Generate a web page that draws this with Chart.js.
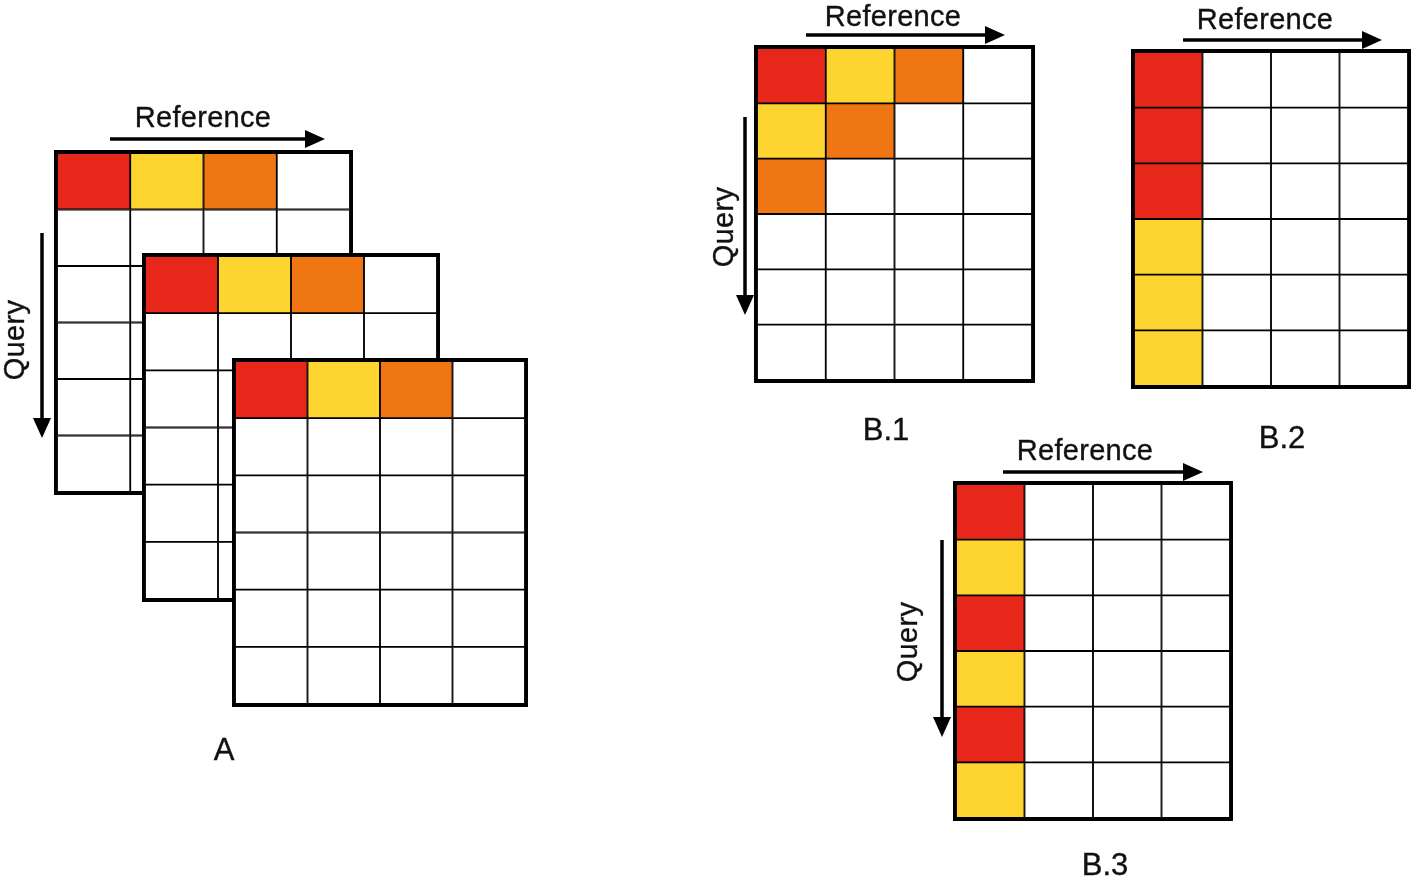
<!DOCTYPE html>
<html>
<head>
<meta charset="utf-8">
<script src="https://cdn.jsdelivr.net/npm/chart.js@4.4.1/dist/chart.umd.min.js"></script>
<style>
    html, body { margin: 0; padding: 0; background: #fff; }
    body { width: 1415px; height: 879px; position: relative; overflow: hidden; }
    .grid { position: absolute; border: 3px solid #000; background: #fff; box-sizing: border-box; }
    .grid canvas { display: block; }
    #notes { position: absolute; left: 0; top: 0; z-index: 10; pointer-events: none; }
    #notes text { font-family: "Liberation Sans", Arial, Helvetica, sans-serif; fill: #111; stroke: #111; stroke-width: 0.35px; }
</style>
</head>
<body>

<div class="grid" id="wA1"><canvas id="gA1"></canvas></div>
<div class="grid" id="wA2"><canvas id="gA2"></canvas></div>
<div class="grid" id="wA3"><canvas id="gA3"></canvas></div>
<div class="grid" id="wB1"><canvas id="gB1"></canvas></div>
<div class="grid" id="wB2"><canvas id="gB2"></canvas></div>
<div class="grid" id="wB3"><canvas id="gB3"></canvas></div>

<svg id="notes" width="1415" height="879"></svg>

<script>
// ── data ──
const columns = ['ref 1', 'ref 2', 'ref 3', 'ref 4'];
const queryRows = ['q 1', 'q 2', 'q 3', 'q 4', 'q 5', 'q 6'];
const cellUnit = [1, 1, 1, 1];

// R = red, Y = yellow, O = orange, W = empty
const gridA = ['RYOW', 'WWWW', 'WWWW', 'WWWW', 'WWWW', 'WWWW'];
const gridB1 = ['RYOW', 'YOWW', 'OWWW', 'WWWW', 'WWWW', 'WWWW'];
const gridB2 = ['RWWW', 'RWWW', 'RWWW', 'YWWW', 'YWWW', 'YWWW'];
const gridB3 = ['RWWW', 'YWWW', 'RWWW', 'YWWW', 'RWWW', 'YWWW'];

const panelLabels = ['A', 'B.1', 'B.2', 'B.3'];
const axisRef = 'Reference';
const axisQuery = 'Query';

const CELL = { R: '#e8271b', Y: '#fed530', O: '#f07614', W: '#ffffff' };

// ── layout (outer box of every grid) ──
const BOXES = {
    A1: [54, 150, 299, 345],
    A2: [142, 253, 298, 349],
    A3: [232, 358, 296, 349],
    B1: [754, 45, 281, 338],
    B2: [1131, 49, 280, 340],
    B3: [953, 481, 280, 340],
};
const FRAME = 3;

// ── grid factory ──
function makeGrid(key, cells) {
    const wrap = document.getElementById('w' + key);
    const ctx = document.getElementById('g' + key);
    const [x, y, w, h] = BOXES[key];
    const iw = w - 2 * FRAME, ih = h - 2 * FRAME;
    wrap.style.left = x + 'px';
    wrap.style.top = y + 'px';
    wrap.style.width = w + 'px';
    wrap.style.height = h + 'px';
    ctx.width = iw;
    ctx.height = ih;
    ctx.style.width = iw + 'px';
    ctx.style.height = ih + 'px';

    const datasets = cells.map((row, r) => ({
        label: queryRows[r],
        data: cellUnit,
        backgroundColor: row.split('').map(k => CELL[k]),
        borderColor: '#000',
        borderWidth: 1.25,
        borderSkipped: false,
        categoryPercentage: 1,
        barPercentage: 1,
    }));

    return new Chart(ctx, {
        type: 'bar',
        data: {
            labels: columns,
            datasets
        },
        options: {
            responsive: false,
            animation: false,
            events: [],
            layout: {
                padding: 0
            },
            plugins: {
                legend: {
                    display: false
                },
                tooltip: {
                    enabled: false
                }
            },
            scales: {
                x: {
                    stacked: true,
                    display: false
                },
                y: {
                    stacked: true,
                    display: false,
                    reverse: true,
                    min: 0,
                    max: queryRows.length
                },
            },
        }
    });
}

makeGrid('A1', gridA);
makeGrid('A2', gridA);
makeGrid('A3', gridA);
makeGrid('B1', gridB1);
makeGrid('B2', gridB2);
makeGrid('B3', gridB3);

// ── annotations ──
const NS = 'http://www.w3.org/2000/svg';
const svg = document.getElementById('notes');

function el(name, attrs, text) {
    const e = document.createElementNS(NS, name);
    for (const k in attrs) e.setAttribute(k, attrs[k]);
    if (text) e.textContent = text;
    svg.appendChild(e);
    return e;
}

function arrowRight(x1, x2, y) {
    el('line', { x1, y1: y, x2: x2 - 16, y2: y, stroke: '#000', 'stroke-width': 3.5 });
    el('polygon', { points: `${x2},${y} ${x2 - 20},${y - 9} ${x2 - 20},${y + 9}`, fill: '#000' });
}

function arrowDown(x, y1, y2) {
    el('line', { x1: x, y1, x2: x, y2: y2 - 16, stroke: '#000', 'stroke-width': 3.5 });
    el('polygon', { points: `${x},${y2} ${x - 9},${y2 - 20} ${x + 9},${y2 - 20}`, fill: '#000' });
}

function refLabel(cx, base) {
    el('text', { x: cx, y: base, 'text-anchor': 'middle', 'font-size': 29, 'letter-spacing': 0.3 }, axisRef);
}

function queryLabel(bx, cy) {
    el('text', { x: 0, y: 0, 'text-anchor': 'middle', 'font-size': 29, 'letter-spacing': 0.3,
        transform: `translate(${bx},${cy}) rotate(-90)` }, axisQuery);
}

function panel(cx, base, txt) {
    el('text', { x: cx, y: base, 'text-anchor': 'middle', 'font-size': 31 }, txt);
}

// A
refLabel(203, 127);
arrowRight(110, 325, 139);
queryLabel(24, 340);
arrowDown(42, 233, 438);
panel(224, 760, panelLabels[0]);

// B.1
refLabel(893, 26);
arrowRight(806, 1005, 35);
queryLabel(733, 227);
arrowDown(745, 117, 315);
panel(886, 440, panelLabels[1]);

// B.2
refLabel(1265, 29);
arrowRight(1183, 1382, 40);
panel(1282, 448, panelLabels[2]);

// B.3
refLabel(1085, 460);
arrowRight(1003, 1203, 472);
queryLabel(917, 642);
arrowDown(942, 540, 737);
panel(1105, 875, panelLabels[3]);
</script>
</body>
</html>
